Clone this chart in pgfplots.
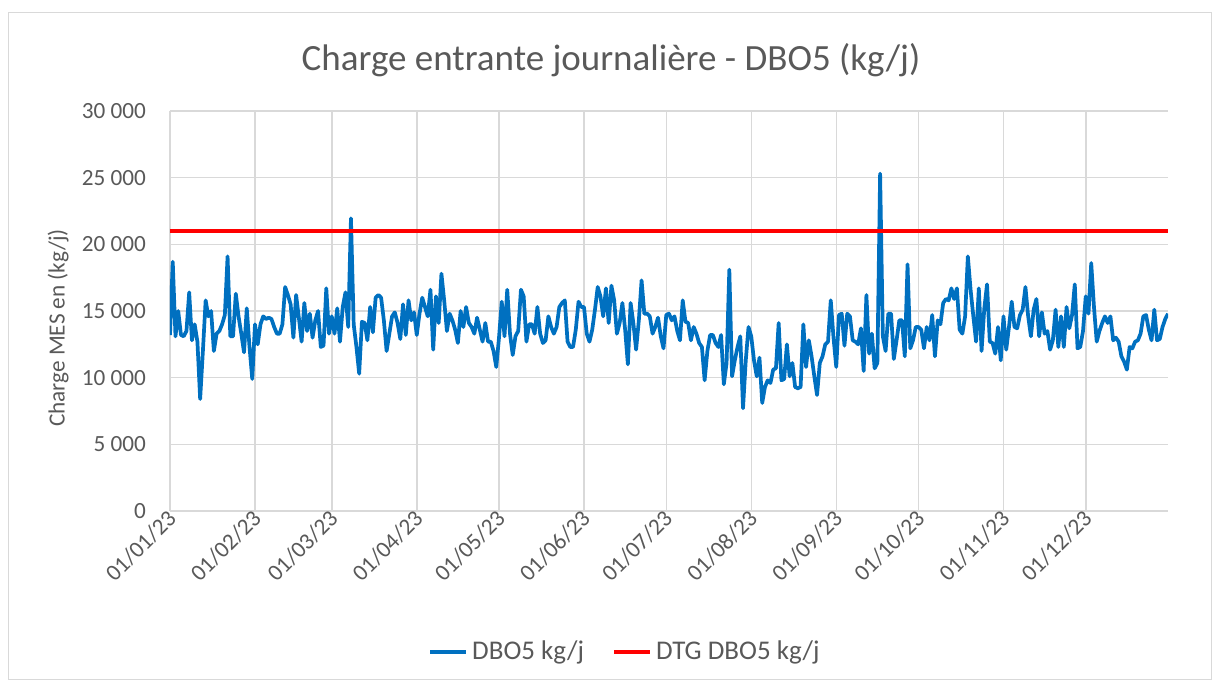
\documentclass[border=0pt]{standalone}
\usepackage{fontspec}
\setmainfont{Carlito}
\usepackage{pgfplots}
\usepackage{pgfplotstable}
\pgfplotsset{compat=1.18}

\definecolor{txtgray}{HTML}{595959}
\definecolor{gridgray}{HTML}{D9D9D9}
\definecolor{dboblue}{HTML}{0070C0}

% day of year (0 = 01/01/23), DBO5 in kg/j
\pgfplotstableread[row sep=\\]{
day v\\
0 13200\\ 1 18700\\ 2 13100\\ 3 15000\\ 4 13200\\ 5 13100\\ 6 13500\\ 7 16400\\ 8 12800\\ 9 14000\\ 10 12700\\ 11 8400\\ 12 12000\\ 13 15800\\ 14 14600\\ 15 15000\\ 16 12000\\ 17 13300\\ 18 13500\\ 19 14000\\ 20 14700\\ 21 19100\\ 22 13100\\ 23 13100\\ 24 16300\\ 25 14600\\ 26 13300\\ 27 11900\\ 28 15200\\ 29 12300\\ 30 9900\\
31 14000\\ 32 12500\\ 33 14000\\ 34 14600\\ 35 14400\\ 36 14500\\ 37 14400\\ 38 13800\\ 39 13300\\ 40 13300\\ 41 14000\\ 42 16800\\ 43 16200\\ 44 15500\\ 45 13000\\ 46 16200\\ 47 14500\\ 48 12700\\ 49 15600\\ 50 13500\\ 51 14800\\ 52 13000\\ 53 14300\\ 54 15000\\ 55 12300\\ 56 12400\\ 57 16700\\ 58 13300\\
59 14600\\ 60 13300\\ 61 15200\\ 62 12700\\ 63 15300\\ 64 16400\\ 65 13800\\ 66 21950\\ 67 14000\\ 68 12300\\ 69 10300\\ 70 14200\\ 71 14100\\ 72 12800\\ 73 15300\\ 74 13400\\ 75 16000\\ 76 16200\\ 77 16000\\ 78 14300\\ 79 12000\\ 80 13300\\ 81 14600\\ 82 14900\\ 83 14100\\ 84 12900\\ 85 15500\\ 86 13200\\ 87 15800\\ 88 14300\\ 89 14900\\
90 13200\\ 91 14800\\ 92 16000\\ 93 15300\\ 94 14600\\ 95 16600\\ 96 12100\\ 97 16100\\ 98 14100\\ 99 17800\\ 100 15800\\ 101 13500\\ 102 14800\\ 103 14300\\ 104 13600\\ 105 12600\\ 106 15000\\ 107 13800\\ 108 15300\\ 109 14100\\ 110 13800\\ 111 13300\\ 112 14500\\ 113 13600\\ 114 12700\\ 115 14100\\ 116 12700\\ 117 12700\\ 118 12000\\ 119 10800\\
120 13000\\ 121 15700\\ 122 13100\\ 123 16600\\ 124 13300\\ 125 11700\\ 126 13100\\ 127 13500\\ 128 16600\\ 129 16100\\ 130 12700\\ 131 14000\\ 132 14000\\ 133 13300\\ 134 15300\\ 135 13300\\ 136 12600\\ 137 12800\\ 138 14600\\ 139 13800\\ 140 13300\\ 141 13800\\ 142 15300\\ 143 15600\\ 144 15800\\ 145 12700\\ 146 12300\\ 147 12300\\ 148 13600\\ 149 15700\\ 150 15300\\
151 15300\\ 152 13300\\ 153 12700\\ 154 13600\\ 155 15100\\ 156 16800\\ 157 16100\\ 158 14600\\ 159 16700\\ 160 14100\\ 161 16900\\ 162 15800\\ 163 13300\\ 164 14100\\ 165 15600\\ 166 13600\\ 167 11000\\ 168 15600\\ 169 14100\\ 170 12100\\ 171 14300\\ 172 17300\\ 173 14800\\ 174 14800\\ 175 14600\\ 176 13300\\ 177 13800\\ 178 14500\\ 179 13100\\ 180 12200\\
181 14700\\ 182 14800\\ 183 14300\\ 184 14600\\ 185 13500\\ 186 12800\\ 187 15800\\ 188 14200\\ 189 14100\\ 190 12800\\ 191 13800\\ 192 13300\\ 193 12600\\ 194 12300\\ 195 9800\\ 196 12000\\ 197 13200\\ 198 13200\\ 199 12600\\ 200 12300\\ 201 13200\\ 202 9500\\ 203 11100\\ 204 18100\\ 205 10100\\ 206 11300\\ 207 12300\\ 208 13100\\ 209 7700\\ 210 11300\\ 211 13800\\
212 13100\\ 213 11300\\ 214 10100\\ 215 11500\\ 216 8100\\ 217 9300\\ 218 9800\\ 219 9600\\ 220 10600\\ 221 10700\\ 222 14100\\ 223 9800\\ 224 9900\\ 225 12500\\ 226 10100\\ 227 11100\\ 228 9300\\ 229 9200\\ 230 9300\\ 231 14000\\ 232 10800\\ 233 12800\\ 234 11600\\ 235 10100\\ 236 8700\\ 237 11100\\ 238 11600\\ 239 12500\\ 240 12700\\ 241 15800\\ 242 13000\\
243 10800\\ 244 14700\\ 245 14800\\ 246 12400\\ 247 14800\\ 248 14600\\ 249 12800\\ 250 12700\\ 251 12500\\ 252 13700\\ 253 10500\\ 254 16200\\ 255 11800\\ 256 13300\\ 257 10700\\ 258 11100\\ 259 25300\\ 260 13100\\ 261 12000\\ 262 14800\\ 263 14800\\ 264 11400\\ 265 12800\\ 266 14300\\ 267 14300\\ 268 11600\\ 269 18500\\ 270 12200\\ 271 12800\\ 272 13800\\
273 13800\\ 274 13600\\ 275 12200\\ 276 13800\\ 277 12800\\ 278 14700\\ 279 11600\\ 280 14300\\ 281 14000\\ 282 15600\\ 283 15900\\ 284 15800\\ 285 16700\\ 286 15900\\ 287 16700\\ 288 13600\\ 289 13300\\ 290 14600\\ 291 19100\\ 292 16600\\ 293 14600\\ 294 12700\\ 295 16700\\ 296 12000\\ 297 15200\\ 298 17000\\ 299 12700\\ 300 12600\\ 301 11800\\ 302 13800\\ 303 11300\\
304 14600\\ 305 12100\\ 306 13800\\ 307 15700\\ 308 13800\\ 309 13700\\ 310 14700\\ 311 15100\\ 312 16800\\ 313 14600\\ 314 13100\\ 315 15100\\ 316 15900\\ 317 13100\\ 318 14900\\ 319 13300\\ 320 13500\\ 321 12100\\ 322 12800\\ 323 15100\\ 324 12300\\ 325 14600\\ 326 12300\\ 327 15300\\ 328 13700\\ 329 14700\\ 330 17000\\ 331 12200\\ 332 12300\\ 333 13500\\
334 16100\\ 335 14800\\ 336 18600\\ 337 15300\\ 338 12700\\ 339 13500\\ 340 14100\\ 341 14600\\ 342 14100\\ 343 14600\\ 344 12800\\ 345 13000\\ 346 12700\\ 347 11600\\ 348 11200\\ 349 10600\\ 350 12300\\ 351 12200\\ 352 12700\\ 353 12800\\ 354 13300\\ 355 14600\\ 356 14700\\ 357 13600\\ 358 12800\\ 359 15100\\ 360 12800\\ 361 12900\\ 362 13800\\ 363 14400\\ 364 14800\\
}\dbo

\begin{document}
\begin{tikzpicture}
\path[use as bounding box] (0pt,0pt) rectangle (606pt,-340pt);
\draw[gridgray, line width=0.5pt] (4pt,-6pt) rectangle (605.5pt,-339.5pt);
\node[font=\fontsize{18.5}{22}\selectfont, text=txtgray] at (305.5pt,-30pt) {Charge entrante journalière - DBO5 (kg/j)};
\begin{axis}[
  at={(85pt,-255.5pt)}, anchor=south west,
  scale only axis, width=499pt, height=200pt,
  xmin=0, xmax=364, ymin=0, ymax=30000,
  ytick={0,5000,10000,15000,20000,25000,30000},
  xtick={0,31,59,90,120,151,181,212,243,273,304,334},
  xticklabels={01/01/23,01/02/23,01/03/23,01/04/23,01/05/23,01/06/23,01/07/23,01/08/23,01/09/23,01/10/23,01/11/23,01/12/23},
  scaled y ticks=false,
  /pgf/number format/assume math mode=true,
  /pgf/number format/1000 sep={\ },
  major tick length=0pt,
  grid=major,
  major grid style={gridgray, line width=0.75pt},
  axis line style={draw=none},
  tick label style={font=\fontsize{11.6}{13}\selectfont, text=txtgray},
  yticklabel style={xshift=-8.5pt},
  xticklabel style={rotate=45, anchor=east, xshift=3pt, yshift=-2pt},
  ylabel={Charge MES en (kg/j)},
  every axis y label/.style={at={(axis description cs:-0.112,0.4575)}, rotate=90, anchor=center, font=\fontsize{11.6}{13}\selectfont, text=txtgray},
  legend style={at={(axis description cs:0.457,-0.3525)}, anchor=center, draw=none, fill=none,
    font=\fontsize{13.5}{15}\selectfont, text=txtgray, legend columns=2,
    /tikz/every even column/.append style={column sep=12pt}},
  legend image code/.code={\draw[#1] (0pt,0pt) -- (18pt,0pt);},
]
\addplot[dboblue, line width=1.85pt, line join=round, no marks] table[x=day, y=v] {\dbo};
\addlegendentry{DBO5 kg/j}
\addplot[red, line width=2pt, no marks] coordinates {(0,21000) (364,21000)};
\addlegendentry{DTG DBO5 kg/j}
\end{axis}
\end{tikzpicture}
\end{document}
